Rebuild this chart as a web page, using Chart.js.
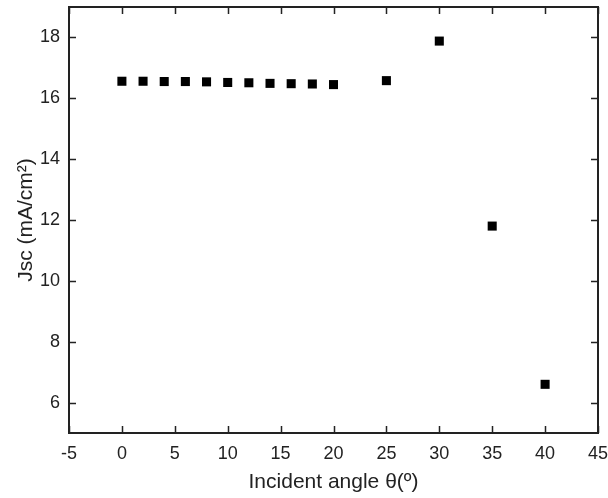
<!DOCTYPE html>
<html lang="en">
<head>
  <meta charset="UTF-8">
  <title>Jsc vs incident angle</title>
  <script src="https://cdn.jsdelivr.net/npm/chart.js"></script>
  <style>
    html, body { margin: 0; padding: 0; background: #fff; }
    #wrap { width: 608px; height: 498px; }
  </style>
</head>
<body>
  <div id="wrap"><canvas id="graphic"></canvas></div>

  <script>
    // data
    const angles = [0, 2, 4, 6, 8, 10, 12, 14, 16, 18, 20, 25, 30, 35, 40];
    const jsc = [16.56, 16.56, 16.55, 16.55, 16.54, 16.52, 16.51, 16.49, 16.48, 16.47, 16.45, 16.58, 17.88, 11.8, 6.6];
    const xTicks = [-5, 0, 5, 10, 15, 20, 25, 30, 35, 40, 45];
    const yTicks = [6, 8, 10, 12, 14, 16, 18];

    const fontFam = "'Liberation Sans', Arial, sans-serif";

    // frame + inward ticks on all four sides
    const framePlugin = {
      id: 'frame',
      afterDraw(chart) {
        const { ctx, chartArea: a, scales } = chart;
        ctx.save();
        ctx.strokeStyle = '#222';
        ctx.lineWidth = 1.5;
        const len = 7;
        ctx.beginPath();
        xTicks.forEach(v => {
          const px = Math.round(scales.x.getPixelForValue(v)) + 0.5;
          ctx.moveTo(px, a.bottom); ctx.lineTo(px, a.bottom - len);
          ctx.moveTo(px, a.top); ctx.lineTo(px, a.top + len);
        });
        yTicks.forEach(v => {
          const py = Math.round(scales.y.getPixelForValue(v)) + 0.5;
          ctx.moveTo(a.left, py); ctx.lineTo(a.left + len, py);
          ctx.moveTo(a.right, py); ctx.lineTo(a.right - len, py);
        });
        ctx.stroke();
        ctx.lineWidth = 2;
        ctx.strokeRect(a.left, a.top, a.right - a.left, a.bottom - a.top);
        ctx.restore();
      }
    };

    const grafico = new Chart(document.getElementById('graphic'), {
      type: 'scatter',
      data: {
        datasets: [{
          data: angles.map((a, i) => ({ x: a, y: jsc[i] })),
          pointStyle: 'rect',
          pointRadius: 6.4,
          pointHoverRadius: 6.4,
          backgroundColor: '#000',
          borderColor: '#000',
          borderWidth: 0
        }]
      },
      options: {
        responsive: true,
        maintainAspectRatio: false,
        animation: false,
        layout: { padding: { top: 7, right: 10, left: 0, bottom: 0 } },
        plugins: { legend: { display: false }, tooltip: { enabled: false } },
        scales: {
          x: {
            type: 'linear',
            min: -5, max: 45,
            afterBuildTicks: s => { s.ticks = xTicks.map(v => ({ value: v })); },
            afterFit: s => { s.height = 65; s.paddingLeft = 0; s.paddingRight = 0; },
            grid: { display: false, drawTicks: false, tickLength: 0 },
            border: { display: false },
            ticks: { color: '#222', padding: 10, font: { family: fontFam, size: 18 } },
            title: {
              display: true,
              text: 'Incident angle θ(º)',
              color: '#222',
              padding: { top: 4, bottom: 3 },
              font: { family: fontFam, size: 21 }
            }
          },
          y: {
            type: 'linear',
            min: 5, max: 19,
            afterBuildTicks: s => { s.ticks = yTicks.map(v => ({ value: v })); },
            afterFit: s => { s.width = 69; s.paddingTop = 0; s.paddingBottom = 0; },
            grid: { display: false, drawTicks: false, tickLength: 0 },
            border: { display: false },
            ticks: { color: '#222', padding: 9, font: { family: fontFam, size: 18 } },
            title: {
              display: true,
              text: 'Jsc (mA/cm²)',
              color: '#222',
              padding: { top: 14, bottom: 0 },
              font: { family: fontFam, size: 21 }
            }
          }
        }
      },
      plugins: [framePlugin]
    });
  </script>
</body>
</html>
